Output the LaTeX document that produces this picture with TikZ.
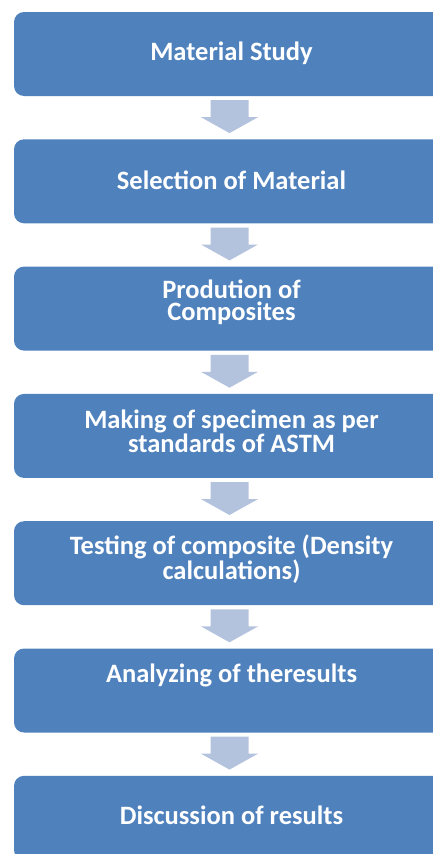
\documentclass[tikz,border=0pt]{standalone}
\usepackage{fontspec}
\setmainfont{Carlito}
\usetikzlibrary{calc}
\definecolor{boxblue}{HTML}{4F81BD}
\definecolor{arrowblue}{HTML}{B3C3DE}
\begin{document}
\begin{tikzpicture}[x=1pt,y=-1pt,
  stage/.style={fill=boxblue,rounded corners=10pt,minimum width=431pt,minimum height=84pt,inner sep=0pt},
  stagetext/.style={text=white,font=\bfseries\fontsize{26.5}{21.5}\selectfont,align=center,inner sep=0pt}]
\useasboundingbox (0,0) rectangle (433,854);
\foreach \i in {1,...,7} {\node[stage](s\i)at(229.5,{54+127.3*(\i-1)}){};}
\foreach \i/\dy/\txt in {1/41/{Material Study},2/41/{Selection of Material},
  3/36/{Prodution of\\Composites},4/38/{Making of specimen as per\\standards of ASTM},
  5/38/{Testing of composite (Density\\calculations)},6/27/{Analyzing of theresults},
  7/40/{Discussion of results}}
  {\node[stagetext](t\i)at($(s\i.north)+(2,\dy)$){\txt};}
\foreach \a/\b in {1/2,2/3,3/4,4/5,5/6,6/7} {
  \fill[arrowblue] ($(s\a.south)+(-19,4)$)--++(38,0)--++(0,17)--++(9.5,0)
    --($(s\b.north)+(0,-6)$)--($(s\a.south)+(-28.5,21)$)--++(9.5,0)--cycle;}
\end{tikzpicture}
\end{document}
